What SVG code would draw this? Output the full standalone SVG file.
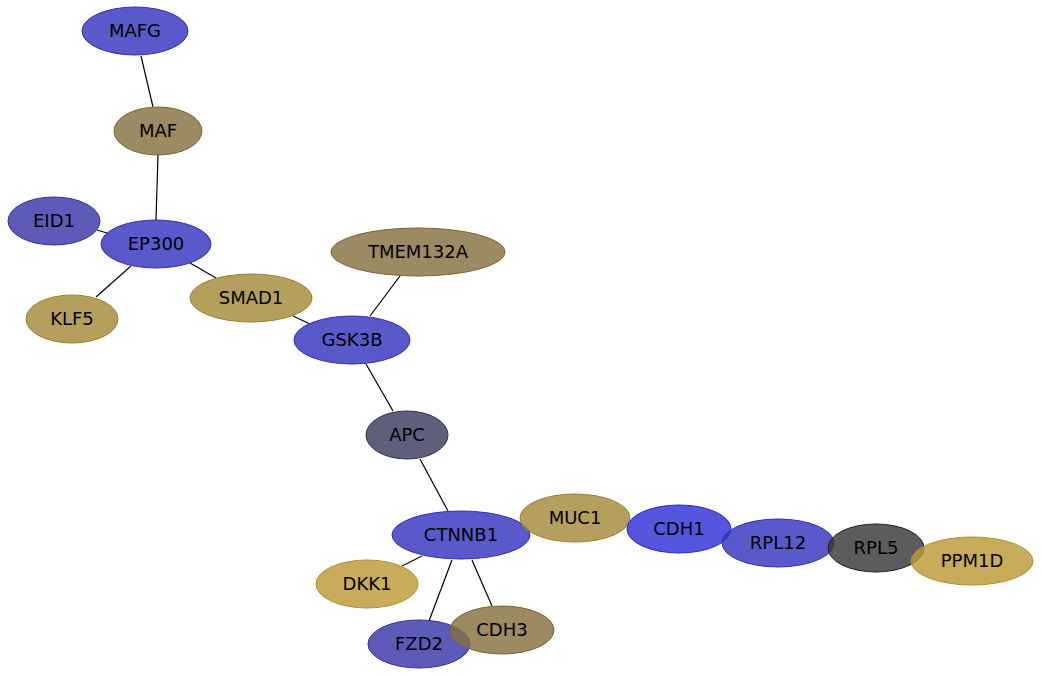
<svg xmlns="http://www.w3.org/2000/svg" width="1041" height="676" viewBox="0 0 1041 676">
<style>
.n ellipse{fill-opacity:0.82;stroke-width:1}
.n text{font-family:"DejaVu Sans",sans-serif;font-size:18px;fill:#000;text-anchor:middle}
.b ellipse{fill:#3535c0;stroke:#3030b0}
.b2 ellipse{fill:#3838a8;stroke:#3030a0}
.b3 ellipse{fill:#3030d8;stroke:#2828c8}
.o ellipse{fill:#857040;stroke:#7a6630}
.y ellipse{fill:#a58a38;stroke:#9a8030}
.y2 ellipse{fill:#bc9a38;stroke:#b09030}
.g ellipse{fill:#3c3c60;stroke:#303050}
.k ellipse{fill:#383838;stroke:#202020}
#edges line{stroke:#000;stroke-width:1.2}
</style>
<rect width="1041" height="676" fill="#fff"/>
<g id="edges">
<line x1="141" y1="56" x2="153" y2="107"/>
<line x1="158" y1="155" x2="156" y2="220"/>
<line x1="97" y1="230" x2="107" y2="233"/>
<line x1="131" y1="266" x2="96" y2="297"/>
<line x1="190" y1="263" x2="216" y2="278"/>
<line x1="293" y1="316" x2="310" y2="324"/>
<line x1="400" y1="276" x2="370" y2="316"/>
<line x1="366" y1="364" x2="393" y2="411"/>
<line x1="420" y1="459" x2="448" y2="511"/>
<line x1="422" y1="556" x2="402" y2="566"/>
<line x1="452" y1="560" x2="429" y2="621"/>
<line x1="472" y1="560" x2="492" y2="606"/>
</g>
<g id="MAFG" class="n b"><ellipse cx="135" cy="31" rx="53" ry="24"/><text x="135" y="37">MAFG</text></g>
<g id="MAF" class="n o"><ellipse cx="158" cy="131" rx="44" ry="24"/><text x="158" y="137">MAF</text></g>
<g id="EID1" class="n b2"><ellipse cx="54" cy="221" rx="46" ry="24"/><text x="54" y="227">EID1</text></g>
<g id="EP300" class="n b"><ellipse cx="156" cy="244" rx="55" ry="24"/><text x="156" y="250">EP300</text></g>
<g id="KLF5" class="n y"><ellipse cx="72" cy="319" rx="46" ry="24"/><text x="72" y="325">KLF5</text></g>
<g id="SMAD1" class="n y"><ellipse cx="251" cy="298" rx="61" ry="24"/><text x="251" y="304">SMAD1</text></g>
<g id="TMEM132A" class="n o"><ellipse cx="418" cy="252" rx="87" ry="24"/><text x="418" y="258">TMEM132A</text></g>
<g id="GSK3B" class="n b"><ellipse cx="352" cy="340" rx="58" ry="24"/><text x="352" y="346">GSK3B</text></g>
<g id="APC" class="n g"><ellipse cx="407" cy="435" rx="41" ry="24"/><text x="407" y="441">APC</text></g>
<g id="CTNNB1" class="n b"><ellipse cx="461" cy="535" rx="69" ry="24"/><text x="461" y="541">CTNNB1</text></g>
<g id="MUC1" class="n y"><ellipse cx="575" cy="518" rx="55" ry="24"/><text x="575" y="524">MUC1</text></g>
<g id="CDH1" class="n b3"><ellipse cx="679" cy="529" rx="52" ry="24"/><text x="679" y="535">CDH1</text></g>
<g id="RPL12" class="n b"><ellipse cx="778" cy="543" rx="56" ry="24"/><text x="778" y="549">RPL12</text></g>
<g id="RPL5" class="n k"><ellipse cx="876" cy="548" rx="48" ry="24"/><text x="876" y="554">RPL5</text></g>
<g id="PPM1D" class="n y2"><ellipse cx="972" cy="561" rx="61" ry="24"/><text x="972" y="567">PPM1D</text></g>
<g id="DKK1" class="n y2"><ellipse cx="367" cy="584" rx="51" ry="24"/><text x="367" y="590">DKK1</text></g>
<g id="FZD2" class="n b2"><ellipse cx="419" cy="644" rx="51" ry="24"/><text x="419" y="650">FZD2</text></g>
<g id="CDH3" class="n o"><ellipse cx="502" cy="630" rx="52" ry="24"/><text x="502" y="636">CDH3</text></g>
</svg>
